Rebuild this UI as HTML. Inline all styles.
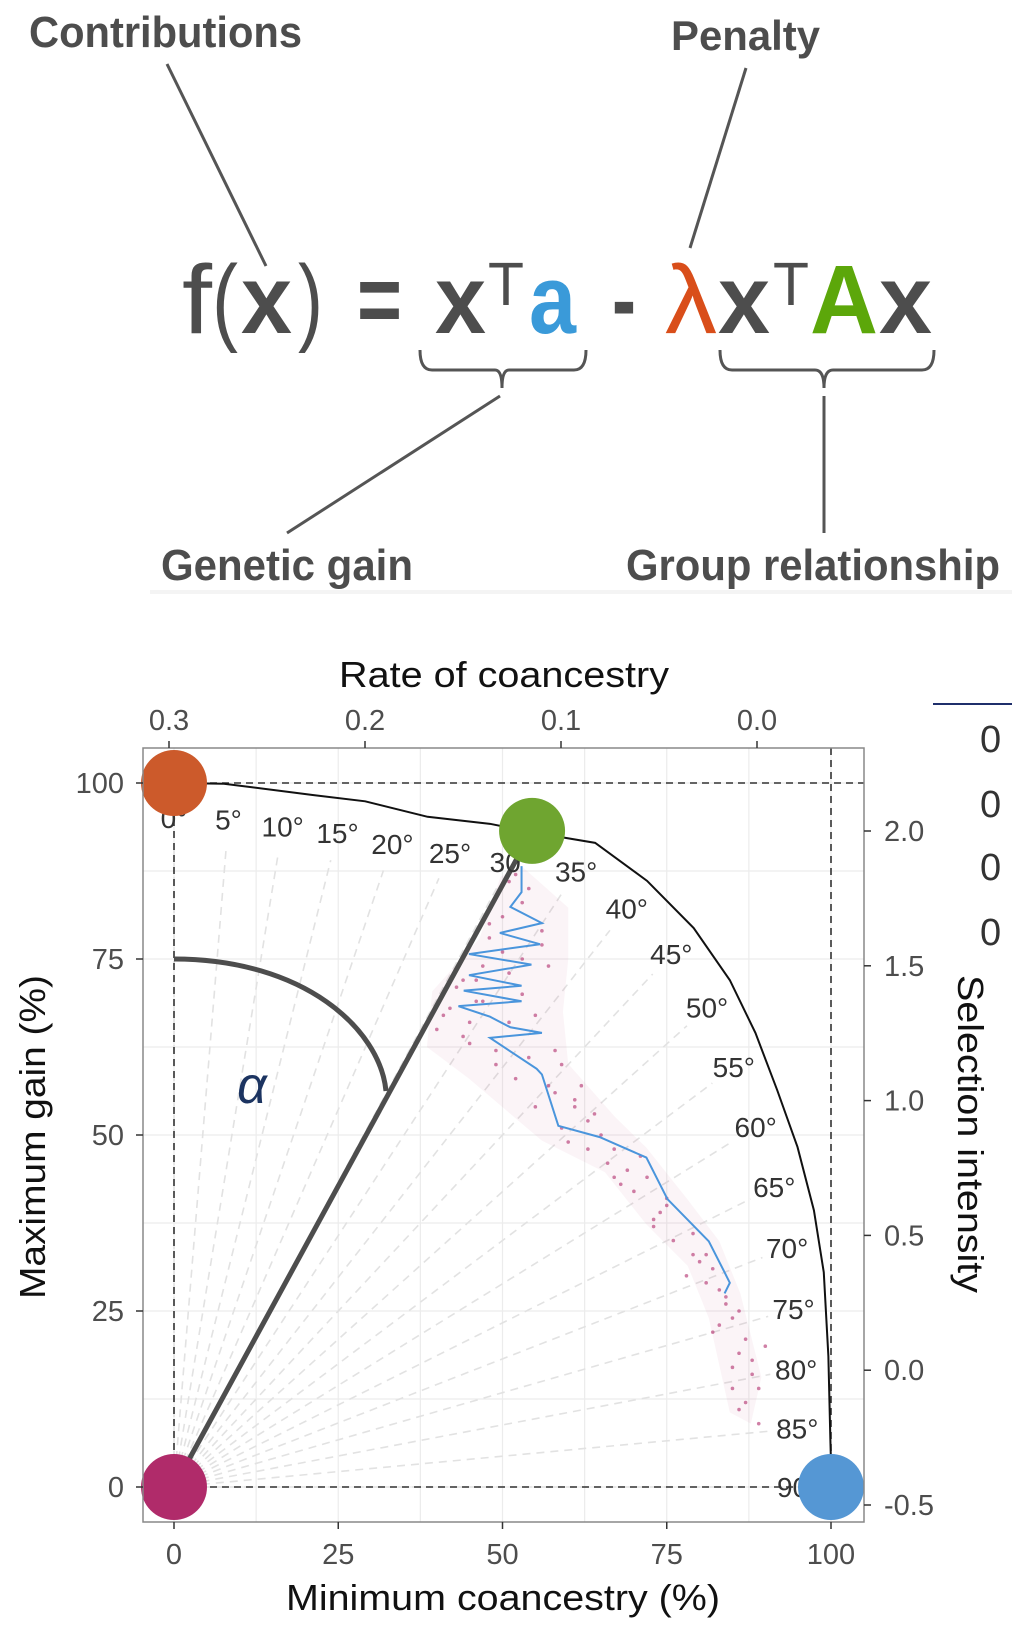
<!DOCTYPE html>
<html><head><meta charset="utf-8">
<style>
html,body{margin:0;padding:0;background:#fff;}
svg{display:block;}
text{font-family:"Liberation Sans",Arial,sans-serif;}
</style></head>
<body>
<svg id="fig" width="1012" height="1636" viewBox="0 0 1012 1636" xmlns="http://www.w3.org/2000/svg">
<g id="formula-panel">
  <text x="29" y="47" font-size="44" font-weight="bold" fill="#4d4d4d" textLength="273" lengthAdjust="spacingAndGlyphs">Contributions</text>
  <text x="671" y="50" font-size="42" font-weight="bold" fill="#4d4d4d" textLength="149" lengthAdjust="spacingAndGlyphs">Penalty</text>
  <line x1="167" y1="64" x2="266" y2="266" stroke="#555" stroke-width="3"/>
  <line x1="746" y1="68" x2="690" y2="248" stroke="#555" stroke-width="3"/>
  <g font-size="97">
    <text x="182" y="333" fill="#4d4d4d" textLength="30" lengthAdjust="spacingAndGlyphs">f</text>
    <text x="212" y="333" fill="#4d4d4d" textLength="26" lengthAdjust="spacingAndGlyphs">(</text>
    <text x="241" y="333" fill="#4d4d4d" font-weight="bold" textLength="51" lengthAdjust="spacingAndGlyphs">x</text>
    <text x="298" y="333" fill="#4d4d4d" textLength="25" lengthAdjust="spacingAndGlyphs">)</text>
    <text x="357" y="333" fill="#4d4d4d" font-weight="bold" textLength="45" lengthAdjust="spacingAndGlyphs">=</text>
    <text x="435" y="333" fill="#4d4d4d" font-weight="bold" textLength="51" lengthAdjust="spacingAndGlyphs">x</text>
    <text x="488" y="305" fill="#4d4d4d" font-size="61" textLength="36" lengthAdjust="spacingAndGlyphs">T</text>
    <text x="529" y="333" fill="#3a9ad9" font-weight="bold" textLength="47" lengthAdjust="spacingAndGlyphs">a</text>
    <text x="612" y="333" fill="#4d4d4d" font-weight="bold" textLength="24" lengthAdjust="spacingAndGlyphs">-</text>
    <text x="665" y="333" fill="#d94e1a" textLength="52" lengthAdjust="spacingAndGlyphs">λ</text>
    <text x="718" y="333" fill="#4d4d4d" font-weight="bold" textLength="52" lengthAdjust="spacingAndGlyphs">x</text>
    <text x="773" y="305" fill="#4d4d4d" font-size="61" textLength="36" lengthAdjust="spacingAndGlyphs">T</text>
    <text x="810" y="333" fill="#5ca70a" font-weight="bold" textLength="68" lengthAdjust="spacingAndGlyphs">A</text>
    <text x="879" y="333" fill="#4d4d4d" font-weight="bold" textLength="53" lengthAdjust="spacingAndGlyphs">x</text>
  </g>
  <path d="M420,350 Q420,370 432,370 L495,370 Q502,370 502,388 Q502,370 509,370 L574,370 Q586,370 586,350" fill="none" stroke="#555" stroke-width="3"/>
  <path d="M720,350 Q720,370 732,370 L815,370 Q824,370 824,388 Q824,370 833,370 L922,370 Q934,370 934,350" fill="none" stroke="#555" stroke-width="3"/>
  <line x1="500" y1="396" x2="287" y2="533" stroke="#555" stroke-width="3"/>
  <line x1="824" y1="396" x2="824" y2="533" stroke="#555" stroke-width="3"/>
  <text x="161" y="580" font-size="44" font-weight="bold" fill="#4d4d4d" textLength="252" lengthAdjust="spacingAndGlyphs">Genetic gain</text>
  <text x="626" y="580" font-size="44" font-weight="bold" fill="#4d4d4d" textLength="374" lengthAdjust="spacingAndGlyphs">Group relationship</text>
  <rect x="150" y="590" width="862" height="4" fill="#f4f4f4"/>
</g>
<g id="chart"></g>
<g>
  <line x1="933" y1="704" x2="1012" y2="704" stroke="#1f2f6b" stroke-width="2"/>
  <text x="980" y="752" font-size="38" fill="#333">0</text>
  <text x="980" y="817" font-size="38" fill="#333">0</text>
  <text x="980" y="880" font-size="38" fill="#333">0</text>
  <text x="980" y="945" font-size="38" fill="#333">0</text>
</g>
</svg>
<script>
// ---- data ----
const xTicks = [0, 25, 50, 75, 100];
const yTicks = [0, 25, 50, 75, 100];
const rateTicks = [0.3, 0.2, 0.1, 0.0];
const rateTickLabels = ["0.3", "0.2", "0.1", "0.0"];
const siTicks = [2.0, 1.5, 1.0, 0.5, 0.0, -0.5];
const siTickLabels = ["2.0", "1.5", "1.0", "0.5", "0.0", "-0.5"];
const angles = [0,5,10,15,20,25,30,35,40,45,50,55,60,65,70,75,80,85,90];
const frontierX = [0, 7.6, 21.1, 29.1, 38.6, 48.1, 54.5, 64.1, 72.0, 79.1, 84.6, 88.5, 91.8, 94.9, 97.4, 98.9, 99.6, 99.9, 100.1];
const frontierY = [100, 99.9, 98.3, 97.4, 95.2, 94.2, 93.0, 91.5, 86.1, 79.4, 72.0, 64.5, 56.4, 48.3, 39.3, 30.5, 18.6, 6.8, 0.1];
const meanX = [52.9,52.9,51.2,56.0,49.6,55.7,44.9,54.4,44.9,52.9,44.1,52.9,43.3,48.1,51.2,56.0,48.1,55.2,56.0,58.5,64.8,71.9,75.1,81.4,83.8,84.6,83.8];
const meanY = [88.2,84.5,82.4,80.1,78.7,77.1,75.7,74.2,72.7,71.2,70.5,69.0,68.3,66.8,65.3,64.5,63.8,59.4,58.6,51.3,49.7,46.8,40.9,34.9,30.5,29.0,27.5];
const cloudLeftX = [49.7,46.5,39.3,38.5,44.9,56.0,65.6,71.9,78.2,81.4,84.6];
const cloudLeftY = [86.7,77.9,70.4,62.5,58.0,49.2,44.7,37.3,31.4,24.0,10.6];
const cloudRightX = [52.9,60.0,60.0,59.2,60.0,67.1,71.9,78.2,83.0,86.2,89.4,87.8];
const cloudRightY = [88.2,82.3,74.9,67.5,60.1,52.6,48.2,40.8,34.9,27.5,15.6,9.0];
const dotX = [51,53,48,56,50,46,42,45,53,57,49,44,54,58,61,63,60,67,69,65,72,75,73,79,81,78,83,85,82,86,88,87,85,89,90,84,47,51,55,59,
  52,54,50,48,56,53,47,43,41,40,45,49,52,57,55,51,46,44,58,62,64,59,66,68,70,71,74,76,80,82,84,86,87,88,89,86,85,83,81,79,61,63,67,73,75];
const dotY = [86,83,80,79,76,72,68,66,70,74,62,64,61,56,55,52,49,48,45,50,44,40,37,36,33,30,28,24,22,19,16,12,14,9,20,26,69,73,67,60,
  87,85,81,78,77,75,74,71,67,65,63,60,58,57,54,66,69,72,62,57,53,51,46,43,42,47,39,35,32,31,27,25,21,18,14,11,17,23,29,33,54,48,44,38,41];
const alphaTarget = [54.5, 93.2];
const pointNames = ["max-gain-point","optimum-point","min-coancestry-point-origin","min-coancestry-point"];
const pointX = [0, 54.5, 0, 100];
const pointY = [100, 93.2, 0, 0];
const pointColors = ["#cc5a2b","#6fa530","#b02b6a","#5597d4"];

// ---- scales ----
const X = v => 174 + v * 6.57;
const Y = v => 1487 - v * 7.04;
const XR = r => 169 + (0.3 - r) * 1960;
const YS = s => 831 + (2.0 - s) * 269.6;
const L = 143, R = 864, T = 748, B = 1522;
const NS = "http://www.w3.org/2000/svg";
const chart = document.getElementById('chart');
function mk(tag, attrs, parent) {
  const e = document.createElementNS(NS, tag);
  for (const k in attrs) e.setAttribute(k, attrs[k]);
  (parent || chart).appendChild(e);
  return e;
}
function txt(s, attrs, parent) { const e = mk('text', attrs, parent); e.textContent = s; return e; }

const bg = mk('rect', {x:L, y:T, width:R-L, height:B-T, fill:'#fff'});


const grid = mk('g', {});


for (let v = -12.5; v <= 112.5; v += 12.5) {
  const xp = X(v); if (xp > L && xp < R) mk('line', {x1:xp, x2:xp, y1:T, y2:B, stroke:'#ececec', 'stroke-width':1.2}, grid);
  const yp = Y(v); if (yp > T && yp < B) mk('line', {x1:L, x2:R, y1:yp, y2:yp, stroke:'#ececec', 'stroke-width':1.2}, grid);
}

function frontierR(a) {
  const th = a * Math.PI / 180, dx = Math.sin(th), dy = Math.cos(th);
  let best = 100;
  for (let i = 0; i < frontierX.length - 1; i++) {
    const x1 = frontierX[i], y1 = frontierY[i], x2 = frontierX[i+1], y2 = frontierY[i+1];
    const ex = x2 - x1, ey = y2 - y1, den = dx * ey - dy * ex;
    if (Math.abs(den) < 1e-9) continue;
    const t = (x1 * ey - y1 * ex) / den, u = (x1 * dy - y1 * dx) / den;
    if (t > 0 && u >= 0 && u <= 1) { best = t; break; }
  }
  return best;
}
const rays = mk('g', {});


angles.forEach(a => {
  const th = a * Math.PI / 180, r = frontierR(a) - 9;
  const ray = mk('line', {x1:X(0), y1:Y(0), x2:X(r*Math.sin(th)), y2:Y(r*Math.cos(th)), stroke:'#e2e2e2', 'stroke-width':1.6, 'stroke-dasharray':'8,6'}, rays);
  
  
});

let cp = [];
cloudLeftX.forEach((v,i) => cp.push(X(v)+','+Y(cloudLeftY[i])));
for (let i = cloudRightX.length - 1; i >= 0; i--) cp.push(X(cloudRightX[i])+','+Y(cloudRightY[i]));
const cloud = mk('polygon', {points:cp.join(' '), fill:'#c2407e', 'fill-opacity':0.06});


const dots = mk('g', {fill:'#b02b6a', 'fill-opacity':0.6});


dotX.forEach((v,i) => {
  const d = mk('circle', {cx:X(v), cy:Y(dotY[i]), r:1.8}, dots);
  
  
});

const refs = mk('g', {stroke:'#333', 'stroke-width':1.6, 'stroke-dasharray':'7,5', fill:'none'});


mk('line', {x1:X(0), y1:Y(100), x2:R, y2:Y(100)}, refs);
mk('line', {x1:X(100), y1:T, x2:X(100), y2:Y(0)}, refs);
mk('line', {x1:X(0), y1:Y(0), x2:X(100), y2:Y(0)}, refs);
mk('line', {x1:X(0), y1:Y(100), x2:X(0), y2:Y(0)}, refs);

const fr = mk('polyline', {points:frontierX.map((v,i)=>X(v)+','+Y(frontierY[i])).join(' '), fill:'none', stroke:'#111', 'stroke-width':2});



const mp = mk('polyline', {points:meanX.map((v,i)=>X(v)+','+Y(meanY[i])).join(' '), fill:'none', stroke:'#4a95dc', 'stroke-width':2});



const al = mk('line', {x1:X(0), y1:Y(0), x2:X(alphaTarget[0]), y2:Y(alphaTarget[1]), stroke:'#4d4d4d', 'stroke-width':5});


const arc = mk('path', {d:`M${X(0)},${Y(75)} C${X(0)+130},${Y(75)} ${X(0)+206},${Y(75)+70} ${X(0)+212},${Y(75)+132}`, fill:'none', stroke:'#4d4d4d', 'stroke-width':5});


const at = txt('α', {x:252, y:1103, 'font-size':52, 'font-style':'italic', fill:'#1c3461', 'font-family':'"Liberation Serif", serif', 'text-anchor':'middle'});



angles.forEach(a => {
  const th = a * Math.PI / 180, r = frontierR(a) - 5;
  const t = txt(a + '°', {x:X(r*Math.sin(th)), y:Y(r*Math.cos(th)) + 10, 'font-size':28, fill:'#333', 'text-anchor':'middle'});
  
  
});

pointX.forEach((v,i) => {
  const c = mk('circle', {cx:X(v), cy:Y(pointY[i]), r:33, fill:pointColors[i]});
  
  
});

const border = mk('rect', {x:L, y:T, width:R-L, height:B-T, fill:'none', stroke:'#888', 'stroke-width':1.5});



const axb = mk('g', {});  
xTicks.forEach(v => {
  mk('line', {x1:X(v), x2:X(v), y1:B, y2:B+7, stroke:'#333', 'stroke-width':1.5}, axb);
  const t = txt(String(v), {x:X(v), y:1564, 'font-size':29, fill:'#4d4d4d', 'text-anchor':'middle'}, axb);
   
});
const axl = mk('g', {});  
yTicks.forEach(v => {
  mk('line', {x1:L-7, x2:L, y1:Y(v), y2:Y(v), stroke:'#333', 'stroke-width':1.5}, axl);
  const t = txt(String(v), {x:124, y:Y(v)+10, 'font-size':29, fill:'#4d4d4d', 'text-anchor':'end'}, axl);
   
});
const axt = mk('g', {});  
rateTicks.forEach((v,i) => {
  mk('line', {x1:XR(v), x2:XR(v), y1:T-7, y2:T, stroke:'#333', 'stroke-width':1.5}, axt);
  const t = txt(rateTickLabels[i], {x:XR(v), y:730, 'font-size':29, fill:'#4d4d4d', 'text-anchor':'middle'}, axt);
   
});
const axr = mk('g', {});  
siTicks.forEach((v,i) => {
  mk('line', {x1:R, x2:R+7, y1:YS(v), y2:YS(v), stroke:'#333', 'stroke-width':1.5}, axr);
  const t = txt(siTickLabels[i], {x:884, y:YS(v)+10, 'font-size':29, fill:'#4d4d4d'}, axr);
   
});

const tt = txt('Rate of coancestry', {x:339, y:687, 'font-size':36, fill:'#111', textLength:330, lengthAdjust:'spacingAndGlyphs'});
 
const bt = txt('Minimum coancestry (%)', {x:286, y:1610, 'font-size':36, fill:'#111', textLength:434, lengthAdjust:'spacingAndGlyphs'});
 
const lt = txt('Maximum gain (%)', {x:0, y:0, 'font-size':36, fill:'#111', 'text-anchor':'middle', textLength:324, lengthAdjust:'spacingAndGlyphs', transform:'translate(45,1137) rotate(-90)'});
 
const rt = txt('Selection intensity', {x:0, y:0, 'font-size':36, fill:'#111', 'text-anchor':'middle', textLength:318, lengthAdjust:'spacingAndGlyphs', transform:'translate(958,1134) rotate(90)'});
 
</script>
</body></html>
